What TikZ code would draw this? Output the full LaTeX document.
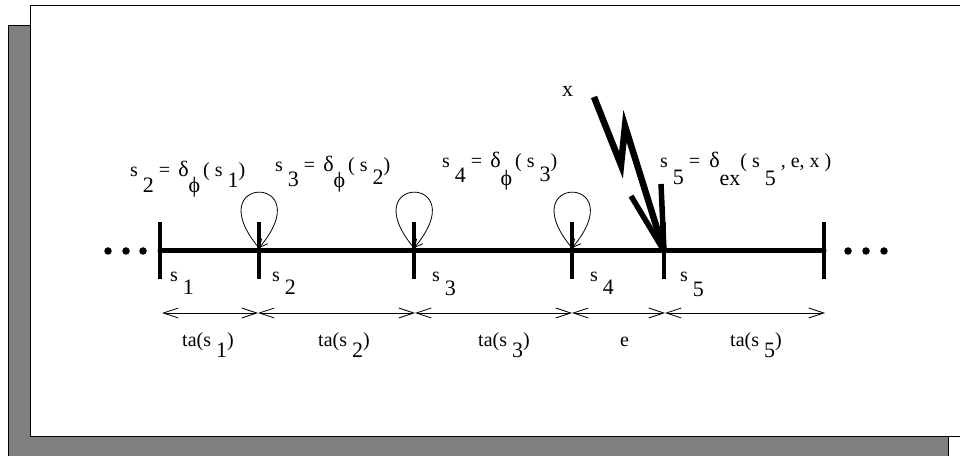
\documentclass[tikz,border=0pt]{standalone}
\usepackage{fontspec}
\setmainfont{Liberation Serif}
\usetikzlibrary{arrows.meta}
\definecolor{shadowgray}{RGB}{128,128,128}
\newcommand{\dn}[2]{\raisebox{-#1pt}{\fontsize{22}{24}\selectfont #2}}
\newcommand{\gk}[1]{{\fontsize{22}{24}\selectfont #1}}
\tikzset{
  lab/.style={inner sep=0pt, anchor=base west, font=\fontsize{20}{22}\selectfont},
  timeline/.style={line width=5pt, line cap=round},
  tickmark/.style={line width=3.8pt},
  loopline/.style={line width=0.8pt, -{Straight Barb[length=8pt,width=8pt,line width=0.8pt]}},
  dimline/.style={line width=0.8pt, {Straight Barb[length=15pt,width=10pt,line width=0.8pt]}-{Straight Barb[length=15pt,width=10pt,line width=0.8pt]}},
  bolt/.style={line width=6.5pt, line join=miter, miter limit=10},
  barb/.style={line width=5.5pt},
  dotmark/.style={fill=black, circle, inner sep=0pt, minimum size=7.5pt}
}
\begin{document}
\begin{tikzpicture}[x=1pt,y=1pt]
\useasboundingbox (0,0) rectangle (960,455);
\clip (0,0) rectangle (960,455);
% frame
\draw[line width=1pt, fill=shadowgray] (8,429) rectangle (948,-20);
\draw[line width=1pt, fill=white] (30,449) rectangle (990,19);
% timeline
\coordinate (L) at (160,204);
\coordinate (R) at (824,204);
\draw[timeline] (L) -- (R);
\node[dotmark] (d1) at (108,204) {};
\node[dotmark] (d2) at (126,204) {};
\node[dotmark] (d3) at (143,204) {};
\node[dotmark] (d4) at (848,204) {};
\node[dotmark] (d5) at (866,204) {};
\node[dotmark] (d6) at (884,204) {};
% ticks
\foreach \n/\x in {1/160,2/259,3/414,4/572,5/664,6/824}{
  \coordinate (t\n) at (\x,204);
  \coordinate (t\n a) at (\x,233);
  \coordinate (t\n b) at (\x,176);
  \draw[tickmark] (t\n a) -- (t\n b);
}
% self loops
\foreach \n in {2,3,4}{
  \draw[loopline] ([yshift=3pt]t\n) to[out=130,in=50,distance=97pt] ([yshift=3pt]t\n);
}
% lightning bolt
\coordinate (b0) at (594,358);
\coordinate (b1) at (621,290);
\coordinate (b2) at (625,329);
\coordinate (tip) at (664,204);
\coordinate (bl) at (631,259);
\coordinate (bv) at (661,271);
\draw[bolt] (b0) -- (b1) -- (b2) -- (tip);
\draw[barb] (bl) -- (tip);
\draw[barb] (bv) -- (tip);
\node[lab] (xl) at (562,358) {\gk{x}};
% dimension lines
\foreach \n/\x in {1/162,2/258,3/415,4/572,5/665,6/825}{
  \coordinate (m\n) at (\x,142);
}
\draw[dimline] (m1) -- (m2);
\draw[dimline] (m2) -- (m3);
\draw[dimline] (m3) -- (m4);
\draw[dimline] (m4) -- (m5);
\draw[dimline] (m5) -- (m6);
% top labels
\node[lab] (f1) at (130,278) {s \dn{16}{2} =\hspace{8pt}\gk{δ}\dn{16}{ϕ}\hspace{3pt}( s \dn{11}{1})};
\node[lab] (f2) at (275,283) {s \dn{15}{3} =\hspace{8pt}\gk{δ}\dn{16}{ϕ}\hspace{3pt}( s \dn{13}{2})};
\node[lab] (f3) at (442,287) {s \dn{15}{4} =\hspace{8pt}\gk{δ}\dn{18}{ϕ}\hspace{3pt}( s \dn{14}{3})};
\node[lab] (f4) at (660,287) {s \dn{17}{5} =\hspace{9pt}\gk{δ}\dn{18}{ex}( s \dn{18}{5} , e, x )};
% tick labels
\node[lab] (l1) at (170,173) {s \dn{13}{1}};
\node[lab] (l2) at (272,173) {s \dn{13}{2}};
\node[lab] (l3) at (432,173) {s \dn{14}{3}};
\node[lab] (l4) at (590,173) {s \dn{13}{4}};
\node[lab] (l5) at (680,173) {s \dn{15}{5}};
% interval labels
\node[lab] (i1) at (182,108) {ta(s \dn{11}{1})};
\node[lab] (i2) at (318,108) {ta(s \dn{11}{2})};
\node[lab] (i3) at (478,108) {ta(s \dn{11}{3})};
\node[lab] (i4) at (620,108) {e};
\node[lab] (i5) at (730,108) {ta(s \dn{11}{5})};
\end{tikzpicture}
\end{document}
